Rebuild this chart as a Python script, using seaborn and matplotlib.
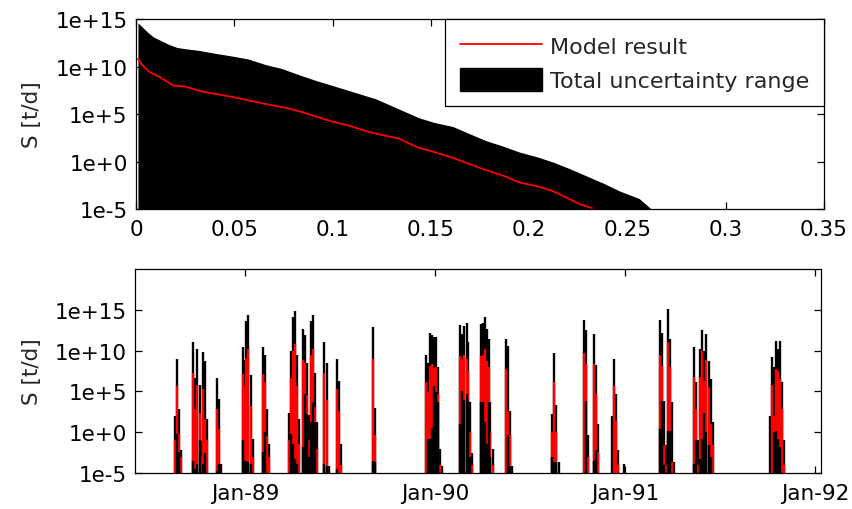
import numpy as np
import pandas as pd
import matplotlib
matplotlib.use("Agg")
import matplotlib.pyplot as plt
import matplotlib.dates as mdates
from matplotlib.ticker import FixedLocator, FixedFormatter, NullLocator
from matplotlib.lines import Line2D
from matplotlib.patches import Patch
import seaborn as sns

# ---------------- data: duration curve (top panel) ----------------
upper_exceed = [0.001, 0.003, 0.006, 0.009, 0.013, 0.017, 0.021, 0.026, 0.032, 0.040,
                0.049, 0.057, 0.066, 0.074, 0.082, 0.092, 0.100, 0.111, 0.122, 0.133,
                0.144, 0.152, 0.161, 0.170, 0.178, 0.187, 0.195, 0.204, 0.212, 0.220,
                0.229, 0.238, 0.246, 0.256, 0.261, 0.263]
upper_log10 = [14.6, 14.2, 13.6, 13.1, 12.7, 12.3, 12.0, 11.85, 11.7, 11.4,
               11.1, 10.8, 10.2, 9.8, 9.2, 8.5, 8.0, 7.3, 6.6, 5.6,
               4.6, 4.1, 3.7, 2.9, 2.2, 1.6, 1.0, 0.5, -0.05, -0.7,
               -1.5, -2.3, -3.1, -3.9, -4.8, -5.2]

model_exceed = [0.001, 0.003, 0.007, 0.012, 0.019, 0.025, 0.033, 0.041, 0.049, 0.058,
                0.066, 0.075, 0.083, 0.092, 0.100, 0.108, 0.117, 0.125, 0.134, 0.143,
                0.150, 0.161, 0.170, 0.178, 0.187, 0.195, 0.204, 0.212, 0.220, 0.226,
                0.232]
model_log10 = [10.8, 10.2, 9.4, 8.9, 8.0, 7.9, 7.4, 7.1, 6.8, 6.4,
               6.05, 5.7, 5.3, 4.7, 4.2, 3.8, 3.2, 2.8, 2.4, 1.5,
               1.1, 0.4, -0.3, -0.9, -1.5, -2.2, -2.6, -3.1, -3.9, -4.5,
               -4.9]

top_xticks = [0, 0.05, 0.1, 0.15, 0.2, 0.25, 0.3, 0.35]
top_xticklabels = ["0", "0.05", "0.1", "0.15", "0.2", "0.25", "0.3", "0.35"]
y_ticks = [1e-5, 1e0, 1e5, 1e10, 1e15]
y_ticklabels = ["1e-5", "1e+0", "1e+5", "1e+10", "1e+15"]

# ---------------- data: time series (bottom panel) ----------------
event_dates = [
    '1988-08-19', '1988-08-23', '1988-08-27', '1988-08-31',
    '1988-09-22', '1988-09-26', '1988-10-01', '1988-10-05', '1988-10-09', '1988-10-12', '1988-10-16', '1988-10-20',
    '1988-11-08', '1988-11-11', '1988-11-15',
    '1988-12-27', '1988-12-31', '1989-01-03', '1989-01-07', '1989-01-11', '1989-01-16',
    '1989-02-04', '1989-02-08', '1989-02-12', '1989-02-16',
    '1989-03-25', '1989-03-29', '1989-04-02', '1989-04-06', '1989-04-10', '1989-04-14',
    '1989-04-21', '1989-04-25', '1989-04-29', '1989-05-03', '1989-05-07', '1989-05-11', '1989-05-14', '1989-05-18',
    '1989-06-02', '1989-06-06', '1989-06-11',
    '1989-06-26', '1989-06-30', '1989-07-04',
    '1989-09-03', '1989-09-07',
    '1989-12-14', '1989-12-18', '1989-12-22', '1989-12-26', '1989-12-30', '1990-01-03', '1990-01-06', '1990-01-10', '1990-01-14',
    '1990-02-18', '1990-02-22', '1990-02-26', '1990-03-02', '1990-03-05', '1990-03-09', '1990-03-13',
    '1990-03-30', '1990-04-02', '1990-04-06', '1990-04-10', '1990-04-14', '1990-04-17', '1990-04-21',
    '1990-05-17', '1990-05-21', '1990-05-25', '1990-05-28',
    '1990-08-13', '1990-08-17', '1990-08-21', '1990-08-26',
    '1990-10-14', '1990-10-18', '1990-10-22', '1990-11-02', '1990-11-06', '1990-11-10',
    '1990-12-07', '1990-12-11', '1990-12-15', '1990-12-18', '1990-12-30',
    '1991-03-09', '1991-03-13', '1991-03-17', '1991-03-21', '1991-03-25', '1991-03-28', '1991-04-01', '1991-04-05',
    '1991-05-13', '1991-05-17', '1991-05-21', '1991-05-25', '1991-05-29', '1991-06-02', '1991-06-06', '1991-06-10', '1991-06-14', '1991-06-18',
    '1991-10-06', '1991-10-10', '1991-10-14', '1991-10-17', '1991-10-21', '1991-10-25', '1991-10-29', '1991-11-02',
]
event_upper_log10 = [
    2.0, 9.0, 2.8, -2.2,
    11.05, 6.6, 10.2, 5.8, -1.1, 9.8, 8.7, 1.6,
    6.6, 4.1, -3.9,
    10.5, 8.9, 13.6, 14.4, 7.0, -0.8,
    10.45, 9.4, 2.8, -1.4,
    2.4, 10.0, 14.1, 14.8, 9.5, 1.6,
    12.7, 11.9, 8.5, 2.1, 13.6, 14.4, 7.3, 1.2,
    11.05, 8.5, -4.1,
    9.0, 6.3, -1.4,
    12.9, 3.0,
    9.5, 8.5, 12.2, 11.9, 11.7, 11.7, 8.0, -2.0, -4.1,
    13.1, 12.0, 13.0, 13.4, 11.0, 3.7, -2.6,
    13.2, 13.4, 14.1, 12.7, 11.4, 3.7, -2.0,
    11.46, 10.6, 2.6, -4.1,
    2.2, 9.75, 3.3, -3.65,
    13.7, 12.5, -0.4, 12.0, 8.2, 1.0,
    2.0, 9.0, 4.7, -2.2, -3.9,
    13.7, 12.2, 3.85, -1.6, 15.1, 11.46, 3.7, -3.7,
    10.5, 6.1, -1.0, 10.2, 12.5, 10.0, 12.0, 8.7, 6.5, 1.2,
    2.0, 9.27, 8.0, 11.2, 10.2, 11.2, 6.1, -1.0,
]
event_model_log10 = [
    -1.0, 5.6, -0.2, -3.0,
    7.3, 2.8, 5.8, 2.4, -3.0, 5.3, 1.6, -1.0,
    2.8, 0.4, -5,
    7.1, 5.7, 9.1, 10.2, 3.2, -3.0,
    7.1, 6.1, -0.5, -3.0,
    -1.0, 6.6, 10.0, 10.8, 5.7, -1.5,
    8.9, 8.5, 4.5, -1.0, 9.4, 10.2, 3.1, -2.0,
    7.3, 4.0, -5,
    5.3, 2.6, -4.0,
    9.0, -0.4,
    6.1, 4.9, 8.1, 8.3, 7.9, 8.0, 4.7, -4.0, -5,
    9.3, 9.0, 9.5, 9.0, 7.5, 0.0, -4.0,
    9.3, 9.4, 10.2, 8.7, 8.0, 0.0, -4.0,
    7.8, 2.6, -0.4, -5,
    0.0, 6.1, 0.0, -5,
    9.75, 8.3, -3.0, 8.3, 4.7, -2.4,
    -5, 5.6, 1.4, -4.0, -5,
    9.5, 8.1, -1.6, -4.0, 11.0, 8.0, -3.7, -5,
    6.8, 2.8, -4.0, 6.8, 10.0, 6.3, 8.85, 5.5, 1.0, -1.6,
    -5, 5.77, 2.0, 7.7, 7.5, 6.5, 2.8, -4.0,
]
event_lower_log10 = [
    -5, -0.2, -2.4, -5,
    -3.5, -4.5, -3.9, -1.0, -5, -3.9, -2.6, -5,
    -4.7, -3.9, -5,
    -1.0, -3.5, -3.5, -3.7, -3.9, -5,
    -2.4, 0.0, -5, -5,
    -5, -0.2, -1.4, -3.3, -3.9, -5,
    -1.8, 4.7, 2.2, -3.0, 1.2, 3.7, 1.2, -5,
    -3.9, -4.1, -5,
    -4.5, -5, -5,
    -3.5, -3.6,
    -5, -0.8, -0.8, 0.5, 5.7, 4.9, 3.7, -5, -5,
    1.0, 5.0, 4.0, 4.7, 3.85, -3.0, -5,
    3.7, 3.7, 1.2, -1.5, 3.7, -3.0, -5,
    -5, -0.4, -4.1, -5,
    -3.0, -3.7, -3.7, -5,
    -5, 3.85, -5, -3.5, -2.2, -5,
    -5, -5, -5, -5, -5,
    0.4, 3.85, -4.0, -5, 0.2, 0.2, -5, -5,
    -3.9, -1.0, -5, -3.3, -0.8, 2.4, 0.0, -1.6, -3.0, -5,
    -5, -5, 0.0, 0.2, -0.8, -1.8, -5, -5,
]
date_ticks = ['1989-01-01', '1990-01-01', '1991-01-01', '1992-01-01']
date_limits = ['1988-06-03', '1992-01-12']

legend_labels = ["Model result", "Total uncertainty range"]
ylabel = "S [t/d]"

# ---------------- style ----------------
sns.set_style("white")
plt.rcParams['font.family'] = ['DejaVu Sans']
FS = 15.5

fig = plt.figure(figsize=(8.52, 5.10), dpi=100)
ax1 = fig.add_axes([0.1596, 0.5882, 0.8075, 0.3725])
ax2 = fig.add_axes([0.1585, 0.0706, 0.8050, 0.4000])

# ---------------- top panel ----------------
up_vals = 10.0 ** np.array(upper_log10)
ax1.fill_between(upper_exceed, 1e-8, up_vals, color='black', linewidth=0)
df_model = pd.DataFrame({"exceed": model_exceed, "S": 10.0 ** np.array(model_log10)})
sns.lineplot(data=df_model, x="exceed", y="S", ax=ax1, color='red', linewidth=1.3,
             estimator=None, sort=False)
ax1.set_yscale('log')
ax1.set_xlim(0, 0.35)
ax1.set_ylim(1e-5, 1e15)
ax1.xaxis.set_major_locator(FixedLocator(top_xticks))
ax1.xaxis.set_major_formatter(FixedFormatter(top_xticklabels))
ax1.set_xlabel("")

handles = [Line2D([0], [0], color='red', lw=1.3),
           Patch(facecolor='black', edgecolor='black')]
leg = ax1.legend(handles, legend_labels, loc='upper right', borderaxespad=0,
                 frameon=True, fancybox=False, framealpha=1, edgecolor='black',
                 fontsize=16, handlelength=3.7, handleheight=1.2, labelspacing=0.5,
                 borderpad=0.68, handletextpad=0.32)
leg.get_frame().set_linewidth(0.9)

# ---------------- bottom panel ----------------
dates = pd.to_datetime(pd.Series(event_dates))
up = np.array(event_upper_log10)
mod = np.array(event_model_log10)
low = np.array(event_lower_log10)
assert len(dates) == len(up) == len(mod) == len(low)
LW = 1.7
m = up > -5
ax2.vlines(dates[m], 1e-5, 10.0 ** up[m], color='black', lw=LW)
m = mod > -5
ax2.vlines(dates[m], 1e-5, 10.0 ** mod[m], color='red', lw=LW)
m = low > -5
ax2.vlines(dates[m], 1e-5, 10.0 ** low[m], color='black', lw=LW)
ax2.set_yscale('log')
ax2.set_ylim(1e-5, 1e20)
ax2.set_xlim(pd.Timestamp(date_limits[0]), pd.Timestamp(date_limits[1]))
ax2.xaxis.set_major_locator(FixedLocator(mdates.date2num(pd.to_datetime(date_ticks))))
ax2.xaxis.set_major_formatter(mdates.DateFormatter('%b-%y'))

for ax in (ax1, ax2):
    ax.yaxis.set_major_locator(FixedLocator(y_ticks))
    ax.yaxis.set_major_formatter(FixedFormatter(y_ticklabels))
    ax.yaxis.set_minor_locator(NullLocator())
    ax.xaxis.set_minor_locator(NullLocator())
    ax.tick_params(axis='both', which='major', direction='in', length=5, width=0.9,
                   top=True, right=True, bottom=True, left=True,
                   labelsize=FS, colors='black')
    ax.tick_params(axis='x', pad=7.5)
    ax.tick_params(axis='y', pad=6)
    for s in ax.spines.values():
        s.set_visible(True)
        s.set_color('black')
        s.set_linewidth(0.9)
    ax.set_ylabel(ylabel, fontsize=FS)
    ax.grid(False)

ax1.yaxis.set_label_coords(-0.137, 0.5)
ax2.yaxis.set_label_coords(-0.1356, 0.5)

fig.savefig("out.png", dpi=100)
